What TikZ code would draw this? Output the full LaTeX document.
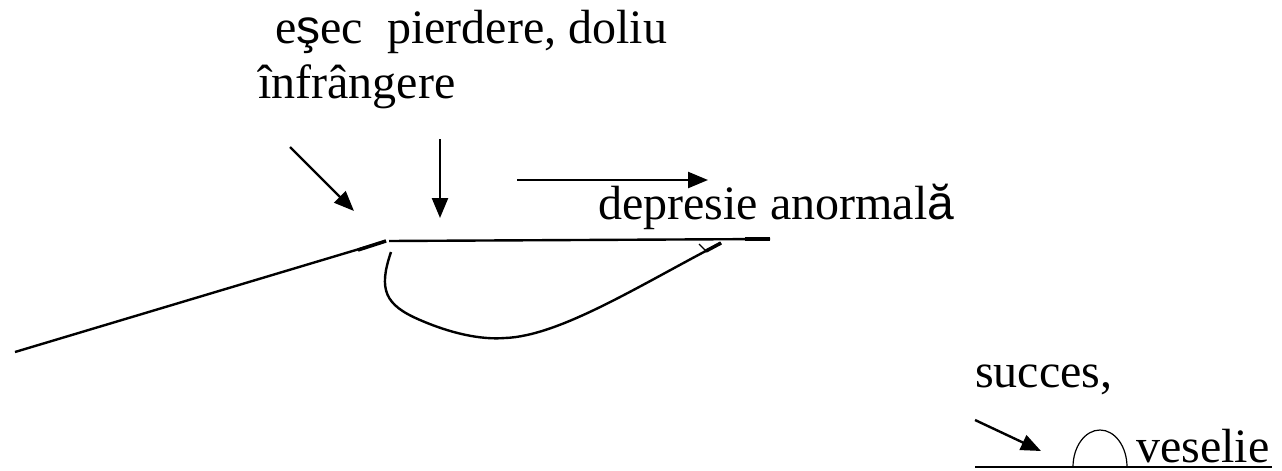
\documentclass[tikz,border=0pt]{standalone}
\usepackage{fontspec}
\setmainfont{Liberation Serif}
\newfontfamily\sansf{Liberation Sans}
\usetikzlibrary{arrows.meta}
\tikzset{
  lbl/.style={anchor=base west, inner sep=0pt, font=\fontsize{48}{48}\selectfont},
  ln/.style={line width=2.4pt},
  arr/.style={ln,-{Triangle[length=20pt,width=16pt]}}
}
\begin{document}
\begin{tikzpicture}[x=1pt,y=-1pt]
  \useasboundingbox (0,0) rectangle (1282,471);
  % labels
  \node[lbl] (esec) at (275,43) {e{\sansf ş}ec\ \ pierdere, doliu};
  \node[lbl] (infr) at (258,98) {înfrângere};
  \node[lbl] (depr) at (598,219) {depresie anormal{\sansf ă}};
  \node[lbl] (succ) at (975,387) {succes,};
  \node[lbl] (vese) at (1136,462) {veselie};
  % points
  \coordinate (e1) at (290,147);  \coordinate (e2) at (354,211);
  \coordinate (p1) at (440,139);  \coordinate (p2) at (440,218);
  \coordinate (d1) at (517,180);  \coordinate (d2) at (708,180);
  \coordinate (s1) at (975,420);  \coordinate (s2) at (1041,451);
  \coordinate (l0) at (15,352);   \coordinate (l1) at (386,241);
  \coordinate (m0) at (389,241);  \coordinate (m1) at (770,239);
  \coordinate (c0) at (391,252);  \coordinate (c1) at (721,243);
  \coordinate (g0) at (975,467);  \coordinate (g1) at (1272,467);
  % arrows
  \draw[arr] (e1) -- (e2);
  \draw[arr] (p1) -- (p2);
  \draw[arr] (d1) -- (d2);
  \draw[arr] (s1) -- (s2);
  % lines
  \draw[ln] (l0) -- (l1);
  \draw[line width=3.5pt] (358,250) -- (l1);
  \draw[ln] (m0) -- (m1);
  \draw[line width=3.5pt] (745,239) -- (m1);
  \draw[ln] (c0) .. controls (378,290) and (385,305) .. (420,320)
    .. controls (450,333) and (480,340) .. (505,338)
    .. controls (560,336) and (640,285) .. (c1);
  \draw[line width=3.5pt] (706,251) -- (c1);
  \draw[line width=1.2pt] (699,244) -- (707,252);
  % veselie
  \draw[ln] (g0) -- (g1);
  \draw[line width=1.2pt] (1073,467) arc[start angle=180,end angle=0,x radius=27pt,y radius=37pt];
\end{tikzpicture}
\end{document}
